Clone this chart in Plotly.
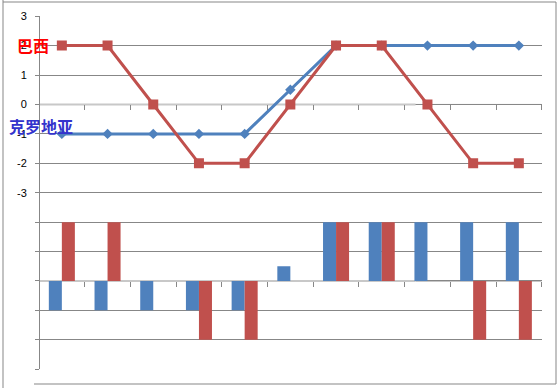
import plotly.graph_objects as go

W, H = 560, 388

categories = list(range(11))
croatia = [-1, -1, -1, -1, -1, 0.5, 2, 2, 2, 2, 2]
brazil = [2, 2, 0, -2, -2, 0, 2, 2, 0, -2, -2]
ytick_vals = [-3, -2, -1, 0, 1, 2, 3]
ytick_text = ["-3", "-2", "-1", "0", "1", "2", "3"]
name_croatia = "克罗地亚"
name_brazil = "巴西"

BLUE = "#4F81BD"
RED = "#C0504D"
GRID = "#878787"

def px_x(p):
    return p / W

def px_y(p):
    return 1 - p / H

xdom = [px_x(39), px_x(541.7)]
top_rng = [-3.5, 3.005]
top_dom = [px_y(207.5), px_y(16)]
bot_rng = [-3.005, 2.5]
bot_dom = [px_y(369.3), px_y(207.5)]

def zero_pos(rng, dom):
    return dom[0] + (0 - rng[0]) / (rng[1] - rng[0]) * (dom[1] - dom[0])

fig = go.Figure()

fig.add_trace(go.Scatter(x=categories, y=croatia, mode="lines+markers",
                         line=dict(color=BLUE, width=3),
                         marker=dict(symbol="diamond", size=8, color=BLUE),
                         xaxis="x", yaxis="y", showlegend=False, hoverinfo="skip"))
fig.add_trace(go.Scatter(x=categories, y=brazil, mode="lines+markers",
                         line=dict(color=RED, width=3),
                         marker=dict(symbol="square", size=10, color=RED),
                         xaxis="x", yaxis="y", showlegend=False, hoverinfo="skip"))

fig.add_trace(go.Bar(x=categories, y=croatia, marker=dict(color=BLUE, line=dict(width=0)),
                     xaxis="x2", yaxis="y2", showlegend=False, hoverinfo="skip"))
fig.add_trace(go.Bar(x=categories, y=brazil, marker=dict(color=RED, line=dict(width=0)),
                     xaxis="x2", yaxis="y2", showlegend=False, hoverinfo="skip"))

xt = [i - 0.5 for i in range(12)]
xcommon = dict(domain=xdom, range=[-0.5, 10.5], showgrid=False, zeroline=False,
               showline=False, automargin=False,
               ticks="outside", ticklen=5, tickcolor=GRID, tickwidth=1,
               tickvals=xt, showticklabels=False, fixedrange=True)
ycommon = dict(showgrid=True, gridcolor=GRID, gridwidth=1, zeroline=False,
               showline=True, linecolor=GRID, linewidth=1, automargin=False,
               ticks="outside", ticklen=4, tickcolor=GRID, tickwidth=1,
               tickvals=ytick_vals, fixedrange=True)

shapes = [
    dict(type="line", xref="paper", yref="paper", x0=px_x(3), x1=px_x(3), y0=0, y1=1,
         line=dict(color=GRID, width=1)),
    dict(type="line", xref="paper", yref="paper", x0=px_x(3), x1=px_x(556), y0=px_y(2), y1=px_y(2),
         line=dict(color=GRID, width=1)),
    dict(type="line", xref="paper", yref="paper", x0=px_x(556), x1=px_x(556), y0=px_y(2), y1=px_y(384),
         line=dict(color=GRID, width=1)),
    dict(type="line", xref="paper", yref="paper", x0=px_x(34), x1=px_x(556), y0=px_y(384), y1=px_y(384),
         line=dict(color=GRID, width=1)),
]
for xr, yr in (("x", "y"), ("x2", "y2")):
    shapes.append(dict(type="line", xref=xr, yref=yr, x0=7.74, x1=10.5, y0=0, y1=0, layer="between",
                       line=dict(color=GRID, width=1)))
    shapes.append(dict(type="line", xref=xr, yref=yr, x0=-0.5, x1=7.74, y0=0, y1=0, layer="between",
                       line=dict(color="#C8C8C8", width=2)))

fig.update_layout(
    width=W, height=H, margin=dict(l=0, r=0, t=0, b=0, autoexpand=False),
    paper_bgcolor="white", plot_bgcolor="rgba(0,0,0,0)",
    barmode="group", bargap=0.43, bargroupgap=0,
    font=dict(family="Liberation Sans, Arial, sans-serif", size=11, color="black"),
    xaxis=dict(anchor="free", position=zero_pos(top_rng, top_dom), **xcommon),
    yaxis=dict(domain=top_dom, range=top_rng, anchor="free", position=xdom[0],
               ticktext=ytick_text, ticklabelstandoff=6, **ycommon),
    xaxis2=dict(anchor="free", position=zero_pos(bot_rng, bot_dom), **xcommon),
    yaxis2=dict(domain=bot_dom, range=bot_rng, anchor="free", position=xdom[0],
                showticklabels=False, **ycommon),
    annotations=[
        dict(text=name_brazil, x=px_x(33), y=px_y(45), xref="paper", yref="paper",
             showarrow=False, xanchor="center", yanchor="middle",
             font=dict(family="Noto Sans CJK SC", size=16, color="#FF0000", weight="bold")),
        dict(text=name_croatia, x=px_x(41), y=px_y(126), xref="paper", yref="paper",
             showarrow=False, xanchor="center", yanchor="middle",
             font=dict(family="Noto Sans CJK SC", size=16, color="#3333CC", weight="bold")),
    ],
    shapes=shapes,
)

fig.write_html("out.html", config={"displayModeBar": False},
               post_script="document.body.style.margin='0';")
